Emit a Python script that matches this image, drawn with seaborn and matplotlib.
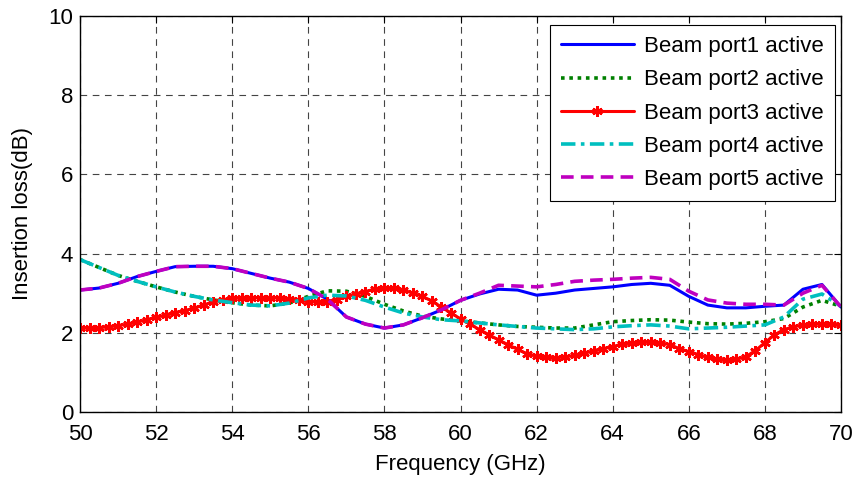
import numpy as np
import pandas as pd
import matplotlib
matplotlib.use("Agg")
import matplotlib.pyplot as plt
import seaborn as sns

freq = [50 + 0.5 * i for i in range(41)]
port1 = [3.08, 3.13, 3.25, 3.42, 3.55, 3.67, 3.68, 3.68, 3.62, 3.50,
         3.38, 3.28, 3.12, 2.85, 2.40, 2.22, 2.12, 2.20, 2.38, 2.58,
         2.82, 2.98, 3.10, 3.08, 2.95, 3.00, 3.08, 3.12, 3.16, 3.22,
         3.25, 3.20, 2.92, 2.70, 2.63, 2.63, 2.67, 2.70, 3.10, 3.22, 2.65]
port5 = [3.08, 3.13, 3.25, 3.42, 3.55, 3.67, 3.68, 3.68, 3.62, 3.50,
         3.38, 3.28, 3.12, 2.85, 2.40, 2.22, 2.12, 2.20, 2.38, 2.58,
         2.82, 3.00, 3.20, 3.18, 3.16, 3.22, 3.30, 3.33, 3.35, 3.38,
         3.40, 3.35, 3.05, 2.83, 2.75, 2.72, 2.72, 2.70, 3.00, 3.20, 2.65]
port2 = [3.85, 3.65, 3.45, 3.30, 3.16, 3.03, 2.92, 2.83, 2.76, 2.70,
         2.68, 2.75, 2.92, 3.06, 3.05, 2.92, 2.72, 2.55, 2.42, 2.35,
         2.30, 2.25, 2.20, 2.16, 2.14, 2.12, 2.12, 2.20, 2.28, 2.31,
         2.33, 2.32, 2.27, 2.23, 2.22, 2.24, 2.28, 2.36, 2.65, 2.82, 2.67]
port4 = [3.85, 3.65, 3.45, 3.30, 3.16, 3.03, 2.92, 2.83, 2.76, 2.70,
         2.68, 2.75, 2.88, 2.95, 2.93, 2.82, 2.65, 2.50, 2.40, 2.33,
         2.30, 2.25, 2.20, 2.16, 2.12, 2.10, 2.08, 2.10, 2.15, 2.18,
         2.20, 2.17, 2.10, 2.12, 2.14, 2.17, 2.20, 2.40, 2.85, 2.98, 2.67]

freq3 = [50 + 0.25 * i for i in range(81)]
port3 = [2.12, 2.12, 2.13, 2.15, 2.18, 2.22, 2.27, 2.33, 2.39, 2.45,
         2.51, 2.56, 2.62, 2.70, 2.78, 2.83, 2.87, 2.88, 2.89, 2.89,
         2.89, 2.88, 2.86, 2.82, 2.79, 2.78, 2.79, 2.84, 2.92, 2.98,
         3.04, 3.10, 3.12, 3.12, 3.08, 3.00, 2.92, 2.80, 2.65, 2.50,
         2.35, 2.22, 2.08, 1.95, 1.82, 1.70, 1.58, 1.47, 1.41, 1.38,
         1.37, 1.39, 1.43, 1.48, 1.55, 1.60, 1.65, 1.71, 1.75, 1.76,
         1.76, 1.75, 1.70, 1.60, 1.52, 1.45, 1.38, 1.33, 1.31, 1.33,
         1.40, 1.55, 1.75, 1.95, 2.08, 2.15, 2.20, 2.22, 2.22, 2.21, 2.20]

labels = ["Beam port1 active", "Beam port2 active", "Beam port3 active",
          "Beam port4 active", "Beam port5 active"]

sns.set_style("white")
plt.rcParams['font.family'] = ['Liberation Sans', 'DejaVu Sans']
plt.rcParams['text.color'] = 'black'
plt.rcParams['axes.labelcolor'] = 'black'

fig = plt.figure(figsize=(8.54, 4.8), dpi=100)
ax = fig.add_axes([80 / 854, 68 / 480, 761 / 854, 396 / 480])

sns.lineplot(x=freq, y=port1, ax=ax, color=(0, 0, 1), lw=2.2, label=labels[0])
sns.lineplot(x=freq, y=port2, ax=ax, color=(0, 0.5, 0), lw=2.6,
             linestyle=(0, (1, 1.3)), label=labels[1])
sns.lineplot(x=freq3, y=port3, ax=ax, color=(1, 0, 0), lw=2.2,
             marker=(6, 2, 0), markersize=7.5, markeredgewidth=1.8,
             markeredgecolor=(1, 0, 0), label=labels[2])
sns.lineplot(x=freq, y=port4, ax=ax, color=(0, 0.75, 0.75), lw=2.6,
             linestyle=(0, (4, 1.5, 1, 1.5)), label=labels[3])
sns.lineplot(x=freq, y=port5, ax=ax, color=(0.75, 0, 0.75), lw=2.6,
             linestyle=(0, (3.5, 2)), label=labels[4])

ax.set_xlim(50, 70)
ax.set_ylim(0, 10)
ax.set_xticks(range(50, 71, 2))
ax.set_yticks(range(0, 11, 2))
ax.grid(True, color='#444444', linestyle=(0, (6, 5)), linewidth=0.8)
ax.tick_params(direction='in', top=True, right=True, length=5, width=0.8,
               labelsize=16, colors='black')
ax.tick_params(axis='x', pad=9)
ax.tick_params(axis='y', pad=5)
for s in ax.spines.values():
    s.set_color('black')
    s.set_linewidth(1.0)
ax.set_xlabel("Frequency (GHz)", fontsize=16, labelpad=6, color='black')
ax.set_ylabel("Insertion loss(dB)", fontsize=16, labelpad=11, color='black')

leg = ax.legend(loc='upper right', bbox_to_anchor=(0.992, 0.977), fontsize=16,
                frameon=True, fancybox=False, edgecolor='black',
                handlelength=3.3, handletextpad=0.45, borderpad=0.5,
                borderaxespad=0.0, labelspacing=0.55, framealpha=1)
leg.get_frame().set_linewidth(0.8)
for t in leg.get_texts():
    t.set_color('black')

fig.savefig("out.png", dpi=100)
